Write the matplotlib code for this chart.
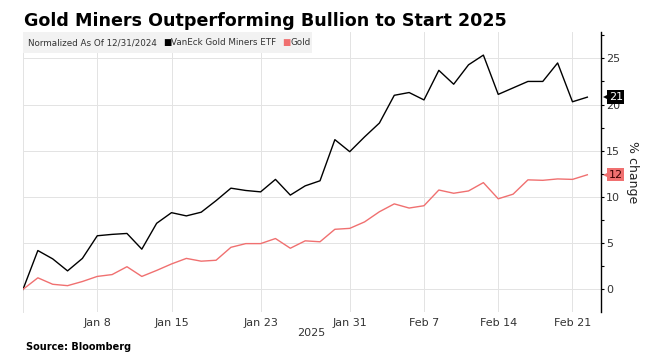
import numpy as np
import pandas as pd
import matplotlib
matplotlib.use("Agg")
import matplotlib.pyplot as plt
from matplotlib.patches import Rectangle
from matplotlib.ticker import MultipleLocator, FixedLocator
import matplotlib.transforms as mtransforms

# trading days from 12/31/2024 to 2/24/2025 (no Jan 1)
dates = [d for d in pd.bdate_range("2024-12-31", "2025-02-24") if d != pd.Timestamp("2025-01-01")]

miners = [0, 4.2, 3.3, 2.0, 3.35, 5.8, 5.95, 6.05, 4.35, 7.15,
          8.3, 7.95, 8.35, 9.6, 10.95, 10.7, 10.55, 11.9, 10.2, 11.2,
          11.75, 16.2, 14.9, 16.5, 18.0, 21.0, 21.3, 20.5, 23.7, 22.2,
          24.3, 25.35, 21.1, 21.8, 22.5, 22.5, 24.5, 20.3, 20.8]
gold = [0, 1.25, 0.55, 0.4, 0.85, 1.4, 1.6, 2.45, 1.4, 2.05,
        2.75, 3.35, 3.05, 3.15, 4.55, 4.95, 4.95, 5.5, 4.45, 5.25,
        5.15, 6.5, 6.6, 7.3, 8.4, 9.25, 8.8, 9.05, 10.75, 10.4,
        10.65, 11.55, 9.8, 10.3, 11.85, 11.8, 11.95, 11.9, 12.4]

tick_dates = ["2025-01-08", "2025-01-15", "2025-01-23", "2025-01-31",
              "2025-02-07", "2025-02-14", "2025-02-21"]
tick_labels = ["Jan 8", "Jan 15", "Jan 23", "Jan 31", "Feb 7", "Feb 14", "Feb 21"]

gold_color = "#f07070"
grid_color = "#e3e3e3"

x = np.arange(len(dates))
tick_pos = [dates.index(pd.Timestamp(d)) for d in tick_dates]

fig = plt.figure(figsize=(6.54, 3.64), dpi=100)
ax = fig.add_axes([23 / 654, 1 - 312 / 364, (600.7 - 23) / 654, 280 / 364])

ax.plot(x, miners, color="black", lw=1.0, zorder=3)
ax.plot(x, gold, color=gold_color, lw=1.0, zorder=3)

ax.set_xlim(0, 38.9)
ax.set_ylim(-2.45, 27.85)

ax.xaxis.set_major_locator(FixedLocator(tick_pos))
ax.set_xticklabels(tick_labels)
ax.tick_params(axis="x", length=0, pad=4, labelsize=8, labelcolor="#333333")

ax.yaxis.tick_right()
ax.yaxis.set_major_locator(MultipleLocator(5))
ax.yaxis.set_minor_locator(MultipleLocator(2.5))
ax.tick_params(axis="y", which="major", direction="out", length=2.5, width=0.8,
               labelsize=8, labelcolor="#333333", pad=1.5)
ax.tick_params(axis="y", which="minor", direction="out", length=2, width=0.8)

ax.grid(True, color=grid_color, lw=0.7)
ax.set_axisbelow(True)
for side in ["top", "bottom"]:
    ax.spines[side].set_visible(False)
ax.spines["left"].set_color(grid_color)
ax.spines["left"].set_linewidth(0.7)
ax.spines["right"].set_color("black")
ax.spines["right"].set_linewidth(1.0)

# legend strip
ax.add_patch(Rectangle((0, 0.925), 0.5, 0.075, transform=ax.transAxes,
                       fc="#f2f2f2", ec="none", zorder=4, clip_on=False))
t1 = ax.text(0.0087, 0.962, "Normalized As Of 12/31/2024", transform=ax.transAxes,
             fontsize=6.3, color="#333333", va="center", ha="left", zorder=5)
t2 = ax.annotate("■", xy=(1, 0.5), xycoords=t1, xytext=(6, 0), textcoords="offset pixels",
                 fontsize=6.3, color="black", va="center", ha="left", zorder=5)
t3 = ax.annotate("VanEck Gold Miners ETF", xy=(1, 0.5), xycoords=t2, xytext=(0, 0),
                 textcoords="offset pixels", fontsize=6.3, color="#333333",
                 va="center", ha="left", zorder=5)
t4 = ax.annotate("■", xy=(1, 0.5), xycoords=t3, xytext=(6, 0), textcoords="offset pixels",
                 fontsize=6.3, color=gold_color, va="center", ha="left", zorder=5)
ax.annotate("Gold", xy=(1, 0.5), xycoords=t4, xytext=(0, 0), textcoords="offset pixels",
            fontsize=6.3, color="#333333", va="center", ha="left", zorder=5)

# last value tags on the right axis
ytrans = ax.get_yaxis_transform()
for vals, fc, tc in [(miners, "black", "white"), (gold, gold_color, "#3a0000")]:
    v = vals[-1]
    ax.annotate(f"{v:.0f}", xy=(1, v), xycoords=ytrans, xytext=(8, 0),
                textcoords="offset pixels", fontsize=8, color=tc, ha="left", va="center",
                bbox=dict(boxstyle="square,pad=0.15", fc=fc, ec="none"), zorder=7,
                annotation_clip=False)
    tri = mtransforms.offset_copy(ytrans, fig=fig, x=6, y=0, units="dots")
    ax.plot([1], [v], marker="<", ms=6, mew=0, color=fc, transform=tri,
            clip_on=False, zorder=6)

fig.text(632 / 654, 1 - 172 / 364, "% change", rotation=270, fontsize=9,
         color="#222222", ha="center", va="center")
fig.text(311.7 / 654, 1 - 332.7 / 364, "2025", fontsize=8, color="#333333",
         ha="center", va="center")
fig.text(24 / 654, 1 - 26 / 364, "Gold Miners Outperforming Bullion to Start 2025",
         fontsize=12.6, fontweight="bold", ha="left", va="baseline")
fig.text(26 / 654, 1 - 347 / 364, "Source: Bloomberg", fontsize=7, fontweight="bold",
         ha="left", va="center")

fig.savefig("out.png", dpi=100)
